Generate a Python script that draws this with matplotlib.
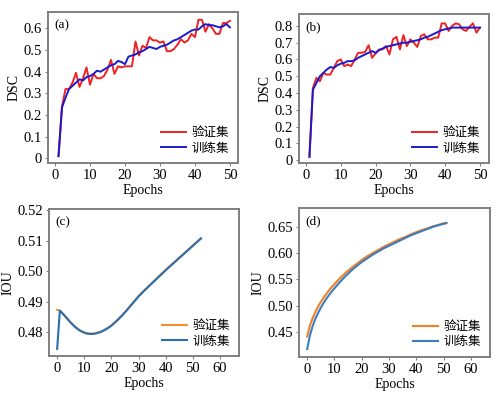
import numpy as np
import matplotlib
matplotlib.use("Agg")
from matplotlib import pyplot as plt

plt.rcParams['font.family'] = ['Liberation Serif', 'Noto Sans CJK SC']
plt.rcParams['font.size'] = 9

# (a) DSC, epochs 1..50
epochs_ab = list(range(1, 51))
dsc_a_val = [0.01, 0.24, 0.32, 0.32, 0.35, 0.395, 0.33, 0.37, 0.42, 0.34,
             0.39, 0.37, 0.37, 0.38, 0.41, 0.455, 0.39, 0.425, 0.42, 0.425,
             0.425, 0.425, 0.54, 0.475, 0.52, 0.51, 0.56, 0.545, 0.545, 0.535,
             0.54, 0.495, 0.495, 0.505, 0.525, 0.55, 0.535, 0.545, 0.575, 0.56,
             0.64, 0.64, 0.585, 0.62, 0.6, 0.575, 0.575, 0.625, 0.625, 0.635]
dsc_a_train = [0.01, 0.235, 0.28, 0.32, 0.335, 0.35, 0.365, 0.36, 0.375, 0.38,
               0.39, 0.405, 0.40, 0.41, 0.42, 0.43, 0.435, 0.45, 0.445, 0.435,
               0.47, 0.475, 0.48, 0.49, 0.495, 0.505, 0.515, 0.51, 0.505, 0.515,
               0.52, 0.525, 0.535, 0.545, 0.55, 0.56, 0.57, 0.58, 0.59, 0.595,
               0.595, 0.61, 0.62, 0.615, 0.615, 0.61, 0.605, 0.61, 0.62, 0.605]

# (b) DSC, epochs 1..50
dsc_b_val = [0.02, 0.43, 0.49, 0.47, 0.52, 0.51, 0.51, 0.55, 0.59, 0.60,
             0.56, 0.57, 0.56, 0.60, 0.64, 0.64, 0.645, 0.685, 0.61, 0.635,
             0.66, 0.66, 0.68, 0.63, 0.72, 0.735, 0.66, 0.745, 0.68, 0.72,
             0.70, 0.675, 0.74, 0.75, 0.72, 0.72, 0.73, 0.73, 0.815, 0.815,
             0.77, 0.80, 0.815, 0.81, 0.78, 0.77, 0.795, 0.815, 0.76, 0.79]
dsc_b_train = [0.02, 0.42, 0.46, 0.50, 0.52, 0.54, 0.555, 0.55, 0.565, 0.575,
               0.58, 0.59, 0.59, 0.595, 0.61, 0.62, 0.63, 0.64, 0.65, 0.64,
               0.655, 0.665, 0.675, 0.68, 0.685, 0.69, 0.695, 0.70, 0.70, 0.705,
               0.71, 0.715, 0.72, 0.73, 0.735, 0.745, 0.755, 0.765, 0.775, 0.78,
               0.785, 0.79, 0.79, 0.79, 0.79, 0.79, 0.79, 0.79, 0.79, 0.79]

# (c) IOU
epochs_c = [0, 1, 2, 3, 4, 5, 6, 7, 8, 9, 10, 11, 12, 13, 14, 16, 18, 20, 22,
            24, 26, 28, 30, 32, 34, 36, 38, 40, 42, 44, 46, 48, 50, 52, 53]
iou_c_val = [0.4873, 0.4871, 0.4862, 0.4852, 0.4842, 0.4832, 0.4823, 0.4815,
             0.4808, 0.4803, 0.4799, 0.4796, 0.4795, 0.4795, 0.4796, 0.4801,
             0.4810, 0.4822, 0.4838, 0.4856, 0.4876, 0.4897, 0.4918, 0.4936,
             0.4953, 0.4970, 0.4987, 0.5004, 0.5020, 0.5036, 0.5052, 0.5068,
             0.5084, 0.5100, 0.5108]
iou_c_train = [0.4745, 0.4870, 0.4861, 0.4851, 0.4841, 0.4831, 0.4822, 0.4814,
               0.4807, 0.4802, 0.4798, 0.4795, 0.4794, 0.4794, 0.4795, 0.4800,
               0.4809, 0.4821, 0.4837, 0.4855, 0.4875, 0.4896, 0.4917, 0.4935,
               0.4952, 0.4969, 0.4986, 0.5003, 0.5019, 0.5035, 0.5051, 0.5067,
               0.5083, 0.5099, 0.5107]

# (d) IOU
epochs_d = [0, 1, 2, 3, 4, 5, 6, 7, 8, 9, 10, 12, 14, 16, 18, 20, 22, 24, 26,
            28, 30, 32, 34, 36, 38, 40, 42, 44, 46, 48, 50, 51]
iou_d_val = [0.441, 0.462, 0.476, 0.488, 0.498, 0.507, 0.515, 0.522, 0.529,
             0.535, 0.541, 0.552, 0.562, 0.571, 0.579, 0.587, 0.594, 0.600,
             0.606, 0.612, 0.617, 0.622, 0.627, 0.631, 0.636, 0.640, 0.644,
             0.647, 0.651, 0.654, 0.657, 0.658]
iou_d_train = [0.417, 0.443, 0.461, 0.475, 0.486, 0.496, 0.505, 0.513, 0.520,
               0.527, 0.533, 0.545, 0.556, 0.566, 0.575, 0.583, 0.590, 0.597,
               0.603, 0.609, 0.614, 0.619, 0.624, 0.629, 0.634, 0.638, 0.642,
               0.646, 0.650, 0.653, 0.656, 0.657]

labels = ["验证集", "训练集"]


def style_axes(ax, tag, ylabel):
    for s in ax.spines.values():
        s.set_color("#808080")
        s.set_linewidth(1.4)
    ax.tick_params(length=2.5, width=0.8, color="#808080", labelsize=10.5, pad=2)
    ax.set_xlabel("Epochs", fontsize=10, labelpad=1)
    ax.set_ylabel(ylabel, fontsize=10, labelpad=2)
    ax.text(0.035, 0.95, tag, transform=ax.transAxes, ha="left", va="top", fontsize=9.5)
    ax.legend(loc="lower right", frameon=False, fontsize=9, handlelength=2.0,
              handletextpad=0.5, labelspacing=0.25, borderaxespad=0.3)


fig = plt.figure(figsize=(5, 3.94), dpi=100)

ax_a = fig.add_axes([0.096, 0.586, 0.380, 0.383])
ax_a.plot(epochs_ab, dsc_a_val, color="#ee2222", lw=1.4, label=labels[0])
ax_a.plot(epochs_ab, dsc_a_train, color="#1a1acc", lw=1.4, label=labels[1])
ax_a.set_xlim(-2, 52.3)
ax_a.set_ylim(-0.022, 0.675)
ax_a.set_xticks([0, 10, 20, 30, 40, 50])
ax_a.set_yticks([0, 0.1, 0.2, 0.3, 0.4, 0.5, 0.6])
ax_a.set_yticklabels(["0", "0.1", "0.2", "0.3", "0.4", "0.5", "0.6"])
style_axes(ax_a, "(a)", "DSC")

ax_b = fig.add_axes([0.598, 0.586, 0.380, 0.378])
ax_b.plot(epochs_ab, dsc_b_val, color="#ee2222", lw=1.4, label=labels[0])
ax_b.plot(epochs_ab, dsc_b_train, color="#1a1acc", lw=1.4, label=labels[1])
ax_b.set_xlim(-2, 52.6)
ax_b.set_ylim(-0.018, 0.87)
ax_b.set_xticks([0, 10, 20, 30, 40, 50])
ax_b.set_yticks([0, 0.1, 0.2, 0.3, 0.4, 0.5, 0.6, 0.7, 0.8])
ax_b.set_yticklabels(["0", "0.1", "0.2", "0.3", "0.4", "0.5", "0.6", "0.7", "0.8"])
style_axes(ax_b, "(b)", "DSC")

ax_c = fig.add_axes([0.098, 0.096, 0.380, 0.373])
ax_c.plot(epochs_c, iou_c_val, color="#f28e2b", lw=1.5, label=labels[0])
ax_c.plot(epochs_c, iou_c_train, color="#2a6fb0", lw=1.5, label=labels[1])
ax_c.set_xlim(-3, 67)
ax_c.set_ylim(0.4721, 0.5203)
ax_c.set_xticks([0, 10, 20, 30, 40, 50, 60])
ax_c.set_yticks([0.48, 0.49, 0.50, 0.51, 0.52])
ax_c.set_yticklabels(["0.48", "0.49", "0.50", "0.51", "0.52"])
style_axes(ax_c, "(c)", "IOU")

ax_d = fig.add_axes([0.598, 0.094, 0.382, 0.378])
ax_d.plot(epochs_d, iou_d_val, color="#f07f2a", lw=1.5, label=labels[0])
ax_d.plot(epochs_d, iou_d_train, color="#3a7dc0", lw=1.5, label=labels[1])
ax_d.set_xlim(-3, 67)
ax_d.set_ylim(0.402, 0.686)
ax_d.set_xticks([0, 10, 20, 30, 40, 50, 60])
ax_d.set_yticks([0.45, 0.50, 0.55, 0.60, 0.65])
ax_d.set_yticklabels(["0.45", "0.50", "0.55", "0.60", "0.65"])
style_axes(ax_d, "(d)", "IOU")

fig.savefig("out.png", dpi=100)
